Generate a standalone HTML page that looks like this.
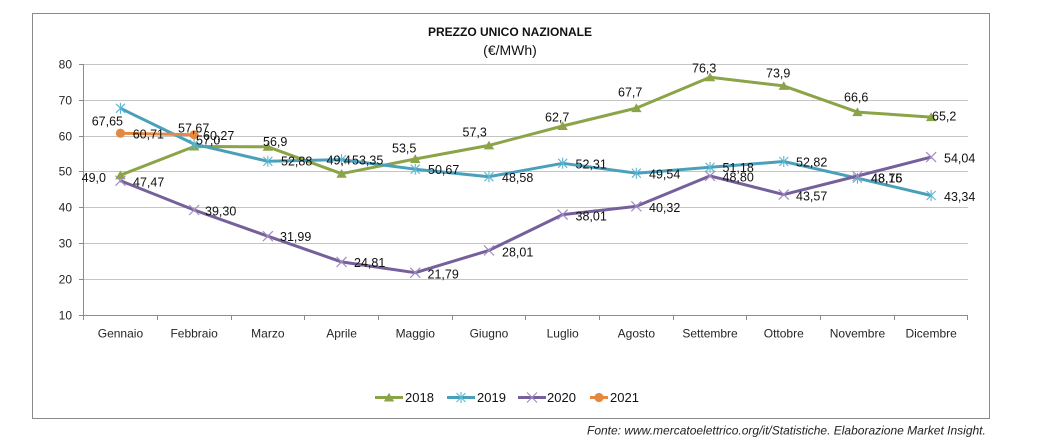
<!DOCTYPE html>
<html>
<head>
<meta charset="utf-8">
<style>
  html,body{margin:0;padding:0;background:#fff;}
  svg{display:block;}
  text{font-family:"Liberation Sans",Arial,sans-serif;}
  .lbl{font-size:12.5px;fill:#111;}
  .ax{font-size:12px;fill:#262626;}
</style>
</head>
<body>
<svg width="1053" height="441" viewBox="0 0 1053 441" xmlns="http://www.w3.org/2000/svg">
  <defs>
    <marker id="mTri" markerUnits="userSpaceOnUse" markerWidth="14" markerHeight="14" refX="7" refY="7" overflow="visible">
      <path d="M7,2.3 L12.2,11 L1.8,11 Z" fill="#8BA448"/>
    </marker>
    <marker id="mStar" markerUnits="userSpaceOnUse" markerWidth="14" markerHeight="14" refX="7" refY="7" overflow="visible">
      <path d="M2.5,2.5 L11.5,11.5 M2.5,11.5 L11.5,2.5 M7,1.5 L7,12.5" stroke="#5DB6D0" stroke-width="1.1" fill="none"/>
    </marker>
    <marker id="mX" markerUnits="userSpaceOnUse" markerWidth="14" markerHeight="14" refX="7" refY="7" overflow="visible">
      <path d="M2,2 L12,12 M2,12 L12,2" stroke="#A08CC0" stroke-width="1.2" fill="none"/>
    </marker>
    <marker id="mCirc" markerUnits="userSpaceOnUse" markerWidth="14" markerHeight="14" refX="7" refY="7" overflow="visible">
      <circle cx="7" cy="7" r="4.6" fill="#E4893F"/>
    </marker>
  </defs>

  <!-- outer border -->
  <rect x="32.5" y="13.5" width="957" height="405" fill="#fff" stroke="#8a8a8a" stroke-width="1"/>

  <!-- title -->
  <text x="510" y="36" text-anchor="middle" font-size="12" font-weight="bold" fill="#111">PREZZO UNICO NAZIONALE</text>
  <text x="510" y="55" text-anchor="middle" font-size="14" fill="#111">(€/MWh)</text>

  <!-- gridlines -->
  <g stroke="#c4c4c4" stroke-width="1">
    <line x1="84" y1="64.5" x2="968" y2="64.5"/>
    <line x1="84" y1="100.5" x2="968" y2="100.5"/>
    <line x1="84" y1="136.5" x2="968" y2="136.5"/>
    <line x1="84" y1="171.5" x2="968" y2="171.5"/>
    <line x1="84" y1="207.5" x2="968" y2="207.5"/>
    <line x1="84" y1="243.5" x2="968" y2="243.5"/>
    <line x1="84" y1="279.5" x2="968" y2="279.5"/>
  </g>
  <!-- axes -->
  <g stroke="#8c8c8c" stroke-width="1">
    <line x1="83.5" y1="64" x2="83.5" y2="315"/>
    <line x1="83" y1="315.5" x2="968" y2="315.5"/>
    <!-- y ticks -->
    <line x1="79" y1="64.5" x2="84" y2="64.5"/>
    <line x1="79" y1="100.5" x2="84" y2="100.5"/>
    <line x1="79" y1="136.5" x2="84" y2="136.5"/>
    <line x1="79" y1="171.5" x2="84" y2="171.5"/>
    <line x1="79" y1="207.5" x2="84" y2="207.5"/>
    <line x1="79" y1="243.5" x2="84" y2="243.5"/>
    <line x1="79" y1="279.5" x2="84" y2="279.5"/>
    <line x1="79" y1="315.5" x2="84" y2="315.5"/>
    <!-- x ticks -->
    <line x1="83.5" y1="315" x2="83.5" y2="320"/>
    <line x1="157.5" y1="315" x2="157.5" y2="320"/>
    <line x1="231.5" y1="315" x2="231.5" y2="320"/>
    <line x1="304.5" y1="315" x2="304.5" y2="320"/>
    <line x1="378.5" y1="315" x2="378.5" y2="320"/>
    <line x1="452.5" y1="315" x2="452.5" y2="320"/>
    <line x1="525.5" y1="315" x2="525.5" y2="320"/>
    <line x1="599.5" y1="315" x2="599.5" y2="320"/>
    <line x1="673.5" y1="315" x2="673.5" y2="320"/>
    <line x1="746.5" y1="315" x2="746.5" y2="320"/>
    <line x1="820.5" y1="315" x2="820.5" y2="320"/>
    <line x1="894.5" y1="315" x2="894.5" y2="320"/>
    <line x1="967.5" y1="315" x2="967.5" y2="320"/>
  </g>

  <!-- y labels -->
  <g class="ax" text-anchor="end">
    <text x="72" y="68.5">80</text>
    <text x="72" y="104.5">70</text>
    <text x="72" y="140.5">60</text>
    <text x="72" y="175.5">50</text>
    <text x="72" y="211.5">40</text>
    <text x="72" y="247.5">30</text>
    <text x="72" y="283.5">20</text>
    <text x="72" y="319.5">10</text>
  </g>

  <!-- x labels -->
  <g class="ax" text-anchor="middle">
    <text x="120.45" y="337.5">Gennaio</text>
    <text x="194.15" y="337.5">Febbraio</text>
    <text x="267.85" y="337.5">Marzo</text>
    <text x="341.55" y="337.5">Aprile</text>
    <text x="415.25" y="337.5">Maggio</text>
    <text x="488.95" y="337.5">Giugno</text>
    <text x="562.65" y="337.5">Luglio</text>
    <text x="636.35" y="337.5">Agosto</text>
    <text x="710.05" y="337.5">Settembre</text>
    <text x="783.75" y="337.5">Ottobre</text>
    <text x="857.45" y="337.5">Novembre</text>
    <text x="931.15" y="337.5">Dicembre</text>
  </g>

  <!-- series -->
  <polyline fill="none" stroke="#8BA448" stroke-width="3" stroke-linejoin="round"
    marker-start="url(#mTri)" marker-mid="url(#mTri)" marker-end="url(#mTri)"
    points="120.45,175.2 194.15,146.5 267.85,146.8 341.55,173.7 415.25,159.0 488.95,145.4 562.65,126.0 636.35,108.1 710.05,77.3 783.75,85.9 857.45,112.1 931.15,117.1"/>
  <polyline fill="none" stroke="#4AA0BB" stroke-width="3" stroke-linejoin="round"
    marker-start="url(#mStar)" marker-mid="url(#mStar)" marker-end="url(#mStar)"
    points="120.45,108.3 194.15,144.1 267.85,161.3 341.55,159.6 415.25,169.2 488.95,176.7 562.65,163.3 636.35,173.2 710.05,167.3 783.75,161.5 857.45,178.2 931.15,195.5"/>
  <polyline fill="none" stroke="#76609C" stroke-width="3" stroke-linejoin="round"
    marker-start="url(#mX)" marker-mid="url(#mX)" marker-end="url(#mX)"
    points="120.45,180.7 194.15,210.0 267.85,236.2 341.55,261.9 415.25,272.7 488.95,250.4 562.65,214.6 636.35,206.3 710.05,175.9 783.75,194.6 857.45,176.0 931.15,157.1"/>
  <polyline fill="none" stroke="#E4893F" stroke-width="3" stroke-linejoin="round"
    marker-start="url(#mCirc)" marker-end="url(#mCirc)"
    points="120.45,133.2 194.15,134.8"/>

  <!-- data labels -->
  <g class="lbl">
    <!-- 2018 -->
    <text x="106" y="181.8" text-anchor="end">49,0</text>
    <text x="196" y="144.3">57,0</text>
    <text x="263" y="145.8">56,9</text>
    <text x="326.5" y="164.3">49,4</text>
    <text x="392" y="152.6">53,5</text>
    <text x="462.5" y="136.6">57,3</text>
    <text x="545" y="121.6">62,7</text>
    <text x="618" y="96.6">67,7</text>
    <text x="692" y="72.6">76,3</text>
    <text x="766" y="77.3">73,9</text>
    <text x="844" y="101.3">66,6</text>
    <text x="932" y="120.3">65,2</text>
    <!-- 2019 -->
    <text x="91.7" y="125.3">67,65</text>
    <text x="178" y="132.6">57,67</text>
    <text x="281" y="165.6">52,88</text>
    <text x="352" y="164.3">53,35</text>
    <text x="428" y="173.8">50,67</text>
    <text x="502" y="181.8">48,58</text>
    <text x="575.5" y="168.3">52,31</text>
    <text x="649" y="178.3">49,54</text>
    <text x="722.5" y="171.8">51,18</text>
    <text x="796" y="166.3">52,82</text>
    <text x="871" y="182.3">48,15</text>
    <text x="944" y="200.8">43,34</text>
    <!-- 2020 -->
    <text x="133" y="186.6">47,47</text>
    <text x="205" y="215.3">39,30</text>
    <text x="280" y="241">31,99</text>
    <text x="354" y="267">24,81</text>
    <text x="427.5" y="278.3">21,79</text>
    <text x="502" y="256.3">28,01</text>
    <text x="575.5" y="220.3">38,01</text>
    <text x="649" y="211.8">40,32</text>
    <text x="722.5" y="181.3">48,80</text>
    <text x="796" y="200.3">43,57</text>
    <text x="871" y="182.3">48,76</text>
    <text x="944" y="162.6">54,04</text>
    <!-- 2021 -->
    <text x="132.7" y="138.6">60,71</text>
    <text x="203" y="140">60,27</text>
  </g>

  <!-- legend -->
  <g>
    <line x1="375" y1="397.5" x2="403" y2="397.5" stroke="#8BA448" stroke-width="3"/>
    <path d="M389,392.8 L394.2,401.5 L383.8,401.5 Z" fill="#8BA448"/>
    <text x="405" y="402" font-size="13" fill="#111">2018</text>

    <line x1="447" y1="397.5" x2="475" y2="397.5" stroke="#4AA0BB" stroke-width="3"/>
    <path d="M456.5,393 L465.5,402 M456.5,402 L465.5,393 M461,392 L461,403" stroke="#5DB6D0" stroke-width="1.1" fill="none"/>
    <text x="477" y="402" font-size="13" fill="#111">2019</text>

    <line x1="518" y1="397.5" x2="546" y2="397.5" stroke="#76609C" stroke-width="3"/>
    <path d="M527,392.5 L537,402.5 M527,402.5 L537,392.5" stroke="#A08CC0" stroke-width="1.2" fill="none"/>
    <text x="547" y="402" font-size="13" fill="#111">2020</text>

    <line x1="590" y1="397.5" x2="608" y2="397.5" stroke="#E4893F" stroke-width="3"/>
    <circle cx="599" cy="397.5" r="4.6" fill="#E4893F"/>
    <text x="610" y="402" font-size="13" fill="#111">2021</text>
  </g>

  <!-- footer -->
  <text x="587" y="434.5" font-size="12" font-style="italic" fill="#222">Fonte: www.mercatoelettrico.org/it/Statistiche. Elaborazione Market Insight.</text>
</svg>
</body>
</html>
